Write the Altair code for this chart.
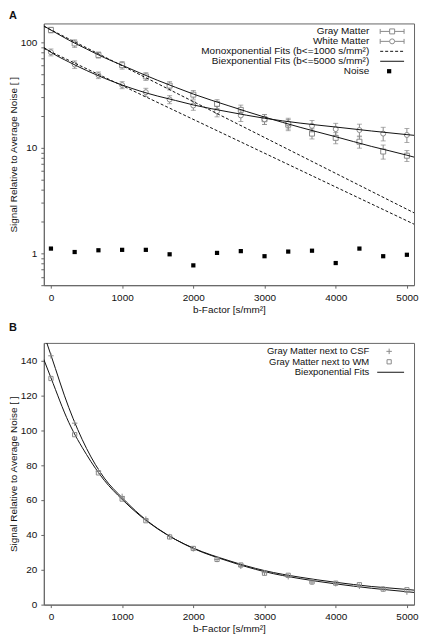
import altair as alt
import pandas as pd

# ---------------- data ----------------
b_values = [0, 333, 667, 1000, 1333, 1667, 2000, 2333, 2667, 3000, 3333, 3667, 4000, 4333, 4667, 5000]

# Panel A
gray_matter = [130, 97, 75.5, 60.4, 47.3, 38.7, 31.8, 26.0, 22.8, 18.6, 16.5, 13.6, 12.4, 11.4, 9.2, 8.4]
gray_err = [8, 8, 5, 5, 4, 3.5, 3, 2.5, 2.5, 2, 2, 1.5, 1.5, 1.5, 1.4, 1.0]
white_matter = [80, 61.3, 48.6, 39.2, 33.5, 28.6, 25.1, 22.1, 20.2, 18.6, 17.0, 16.1, 15.0, 14.7, 13.6, 13.2]
white_err = [6, 5, 3.5, 3, 3, 2.5, 2.5, 2.5, 2.5, 2, 2, 2, 2, 2, 2, 2]
noise = [1.11, 1.03, 1.07, 1.08, 1.08, 0.98, 0.77, 1.01, 1.05, 0.94, 1.04, 1.06, 0.81, 1.11, 0.94, 0.97]

mono_b = [-100, 5100]
mono_gray = [141, 2.42]
mono_white = [87, 1.89]

fit_b = [-100, 0, 250, 500, 750, 1000, 1250, 1500, 1750, 2000, 2500, 3000, 3500, 4000, 4500, 5000, 5100]
biexp_gray = [142, 130, 104.5, 86.0, 71.2, 60.3, 51.0, 43.4, 37.3, 32.2, 24.9, 19.5, 15.6, 12.7, 10.3, 8.5, 8.15]
biexp_white = [89, 80, 64.9, 53.8, 45.5, 39.2, 34.4, 30.8, 28.0, 25.4, 21.8, 19.0, 17.1, 15.7, 14.4, 13.3, 13.1]

# Panel B
gm_csf = [142.6, 104, 76.5, 62, 49, 39, 32, 25.9, 22, 18.3, 16, 13, 12, 10.5, 9, 7.2]
gm_wm = [129.6, 97.4, 75.5, 60.5, 48.1, 38.8, 32.2, 25.9, 22.7, 18.0, 16.8, 13.0, 12.3, 11.4, 8.9, 8.5]
fit_csf = [155, 143, 113, 89.5, 72.5, 61.3, 51.5, 43.6, 37.3, 32.2, 24.8, 18.9, 14.9, 11.9, 9.4, 7.4, 7.0]
fit_wm = [140.5, 130, 104.5, 86.0, 71.2, 60.3, 51.0, 43.4, 37.3, 32.4, 25.2, 19.5, 15.7, 12.8, 10.4, 8.7, 8.3]

x_ticks = [0, 1000, 2000, 3000, 4000, 5000]
log_ticks = [0.5, 0.6, 0.7, 0.8, 0.9, 1, 2, 3, 4, 5, 6, 7, 8, 9, 10, 20, 30, 40, 50, 60, 70, 80, 90, 100]
lin_ticks = [0, 20, 40, 60, 80, 100, 120, 140]

legend_a = ["Gray Matter", "White Matter", "Monoxponential Fits (b<=1000 s/mm²)",
            "Biexponential Fits (b<=5000 s/mm²)", "Noise"]
legend_b = ["Gray Matter next to CSF", "Gray Matter next to WM", "Biexponential Fits"]

# ---------------- styling ----------------
FONT = "Liberation Sans"
GRAY = "#8a8a8a"
LINE = "#111111"
AX = "#666666"
W, H = 372, 263
LEFT = -35  # leftmost content relative to the plot area

one = pd.DataFrame({"a": [0]})

x_enc = alt.X("b:Q", scale=alt.Scale(domain=[-100, 5100], nice=False, zero=False),
              axis=alt.Axis(values=x_ticks, format="d", title="b-Factor [s/mm²]",
                            tickSize=3, labelPadding=4, titlePadding=2, grid=False))

ytitle = "Signal Relative to Average Noise [ ]"


def y_log(field="v"):
    return alt.Y(f"{field}:Q", scale=alt.Scale(type="log", domain=[0.5, 150], nice=False),
                 axis=alt.Axis(values=log_ticks, title=ytitle, tickSize=3, labelPadding=4,
                               labelExpr="indexof([1,10,100], datum.value) >= 0 ? format(datum.value, 'd') : ''",
                               titleX=LEFT + 10, grid=False))


def y_lin(field="v"):
    return alt.Y(f"{field}:Q", scale=alt.Scale(domain=[0, 150], nice=False),
                 axis=alt.Axis(values=lin_ticks, format="d", title=ytitle, tickSize=3, labelPadding=4,
                               titleX=LEFT + 10, grid=False))


def txt(label, x, y, align="right", size=10, weight="normal"):
    return alt.Chart(one).mark_text(align=align, baseline="middle", fontSize=size, font=FONT,
                                    fontWeight=weight, color="#111").encode(
        x=alt.value(x), y=alt.value(y), text=alt.value(label))


def hline(x1, x2, y, color=LINE, dash=None):
    kw = dict(color=color, strokeWidth=1)
    if dash:
        kw["strokeDash"] = dash
    return alt.Chart(one).mark_rule(**kw).encode(x=alt.value(x1), x2=alt.value(x2), y=alt.value(y))


def vline(x, y1, y2, color=GRAY):
    return alt.Chart(one).mark_rule(color=color, strokeWidth=1).encode(
        x=alt.value(x), y=alt.value(y1), y2=alt.value(y2))


def hollow(x, y, shape, size):
    return alt.Chart(one).mark_point(shape=shape, size=size, filled=True, fill="white", stroke=GRAY,
                                     strokeWidth=1, opacity=1).encode(x=alt.value(x), y=alt.value(y))


# ---------------- Panel A ----------------
df_gray = pd.DataFrame({"b": b_values, "v": gray_matter,
                        "lo": [v - e for v, e in zip(gray_matter, gray_err)],
                        "hi": [v + e for v, e in zip(gray_matter, gray_err)]})
df_white = pd.DataFrame({"b": b_values, "v": white_matter,
                         "lo": [v - e for v, e in zip(white_matter, white_err)],
                         "hi": [v + e for v, e in zip(white_matter, white_err)]})
df_noise = pd.DataFrame({"b": b_values, "v": noise})
df_mono_g = pd.DataFrame({"b": mono_b, "v": mono_gray})
df_mono_w = pd.DataFrame({"b": mono_b, "v": mono_white})
df_bi_g = pd.DataFrame({"b": fit_b, "v": biexp_gray})
df_bi_w = pd.DataFrame({"b": fit_b, "v": biexp_white})


def series_layers(df, shape):
    base = alt.Chart(df)
    bars = base.mark_rule(color=GRAY, strokeWidth=1).encode(x=x_enc, y=y_log("lo"), y2="hi:Q")
    cap_lo = base.mark_tick(color=GRAY, orient="horizontal", size=5, thickness=1).encode(x=x_enc, y=y_log("lo"))
    cap_hi = base.mark_tick(color=GRAY, orient="horizontal", size=5, thickness=1).encode(x=x_enc, y=y_log("hi"))
    pts = base.mark_point(shape=shape, size=25, filled=True, fill="white", stroke=GRAY,
                          strokeWidth=1, opacity=1).encode(x=x_enc, y=y_log())
    return [bars, cap_lo, cap_hi, pts]


fits_a = [
    alt.Chart(df_mono_g).mark_line(color=LINE, strokeWidth=1, strokeDash=[3, 2], clip=True).encode(x=x_enc, y=y_log()),
    alt.Chart(df_mono_w).mark_line(color=LINE, strokeWidth=1, strokeDash=[3, 2], clip=True).encode(x=x_enc, y=y_log()),
    alt.Chart(df_bi_g).mark_line(color=LINE, strokeWidth=1, interpolate="monotone", clip=True).encode(x=x_enc, y=y_log()),
    alt.Chart(df_bi_w).mark_line(color=LINE, strokeWidth=1, interpolate="monotone", clip=True).encode(x=x_enc, y=y_log()),
]
noise_layer = alt.Chart(df_noise).mark_point(shape="square", size=18, filled=True, color="#000",
                                             opacity=1).encode(x=x_enc, y=y_log())

# legend A (top right, labels right-aligned, samples to the right)
LX_T, LX1, LX2, LXC = W - 45, W - 34, W - 10, W - 22
rows_a = [8 + 10 * i for i in range(len(legend_a))]
leg_a = [txt(lab, LX_T, rows_a[i]) for i, lab in enumerate(legend_a)]
for r, shape in ((rows_a[0], "square"), (rows_a[1], "circle")):
    leg_a += [hline(LX1, LX2, r, GRAY), vline(LX1, r - 2.5, r + 2.5), vline(LX2, r - 2.5, r + 2.5),
              hollow(LXC, r, shape, 25)]
leg_a += [hline(LX1, LX2, rows_a[2], LINE, [3, 2]), hline(LX1, LX2, rows_a[3], LINE),
          alt.Chart(one).mark_point(shape="square", size=18, filled=True, color="#000", opacity=1).encode(
              x=alt.value(LXC - 3), y=alt.value(rows_a[4]))]

panel_a = alt.layer(
    *series_layers(df_gray, "square"), *series_layers(df_white, "circle"),
    *fits_a, noise_layer, *leg_a,
    txt("A", LEFT, -7, align="left", size=11, weight="bold"),
).properties(width=W, height=H)

# ---------------- Panel B ----------------
df_csf = pd.DataFrame({"b": b_values, "v": gm_csf})
df_wm = pd.DataFrame({"b": b_values, "v": gm_wm})
df_fcsf = pd.DataFrame({"b": fit_b, "v": fit_csf})
df_fwm = pd.DataFrame({"b": fit_b, "v": fit_wm})

PLUS = "M-1,0L1,0M0,-1L0,1"
rows_b = [8.5, 19, 29.5]
panel_b = alt.layer(
    alt.Chart(df_fcsf).mark_line(color=LINE, strokeWidth=1, interpolate="monotone", clip=True).encode(x=x_enc, y=y_lin()),
    alt.Chart(df_fwm).mark_line(color=LINE, strokeWidth=1, interpolate="monotone", clip=True).encode(x=x_enc, y=y_lin()),
    alt.Chart(df_csf).mark_point(shape=PLUS, size=30, filled=False, color=GRAY, opacity=1,
                                 strokeWidth=1).encode(x=x_enc, y=y_lin()),
    alt.Chart(df_wm).mark_point(shape="square", size=18, filled=False, color=GRAY, opacity=1,
                                strokeWidth=1).encode(x=x_enc, y=y_lin()),
    *[txt(lab, LX_T, rows_b[i], size=9.5) for i, lab in enumerate(legend_b)],
    alt.Chart(one).mark_point(shape=PLUS, size=30, filled=False, color=GRAY, opacity=1, strokeWidth=1).encode(
        x=alt.value(W - 25), y=alt.value(rows_b[0])),
    alt.Chart(one).mark_point(shape="square", size=18, filled=False, color=GRAY, opacity=1, strokeWidth=1).encode(
        x=alt.value(W - 25), y=alt.value(rows_b[1])),
    hline(W - 37, W - 10, rows_b[2], LINE),
    txt("B", LEFT, -15, align="left", size=11, weight="bold"),
).properties(width=W, height=H)

chart = alt.vconcat(panel_a, panel_b, spacing=58, bounds="flush").properties(
    padding={"left": 0, "top": 0, "right": 0, "bottom": 0}
).configure(font=FONT).configure_view(stroke=AX, strokeWidth=1).configure_axis(
    labelFont=FONT, titleFont=FONT, labelFontSize=10, titleFontSize=10, titleFontWeight="normal",
    domainColor=AX, tickColor=AX, labelColor="#111", titleColor="#111"
)

chart.save("out.html", embed_options={"renderer": "svg", "actions": False})
